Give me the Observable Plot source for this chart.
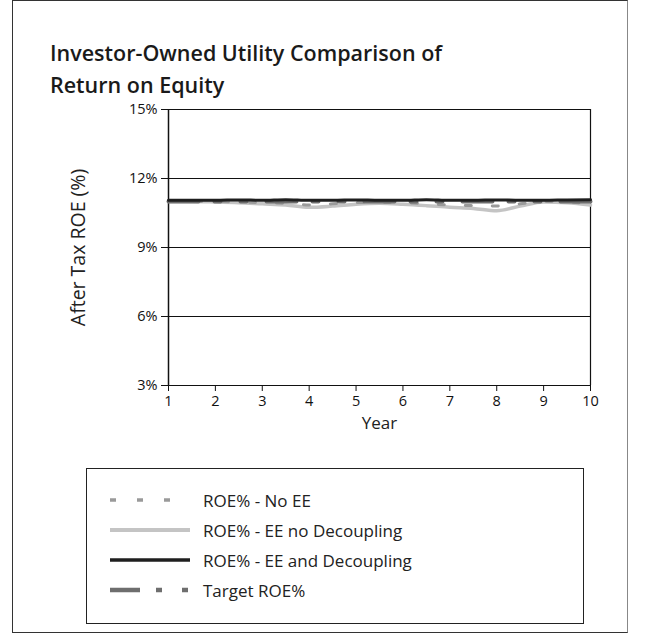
<!DOCTYPE html>
<html>
<head>
<meta charset="utf-8">
<script src="https://cdn.jsdelivr.net/npm/d3@7"></script>
<script src="https://cdn.jsdelivr.net/npm/@observablehq/plot@0.6"></script>
<style>
  body { margin: 0; background: #fff; font-family: "Open Sans", sans-serif; }
  #page { position: relative; width: 656px; height: 635px; overflow: hidden; }
  #frame { position: absolute; left: 12px; top: 0px; width: 616px; height: 633px; border: 1.5px solid #333; box-sizing: border-box; border-right-color: #888; }
  .title { position: absolute; left: 50px; font-size: 21.5px; font-weight: 600; line-height: 22px; height: 22px; color: #1a1a1a; white-space: nowrap; }
  #chart { position: absolute; left: 0; top: 0; }
  #legend { position: absolute; left: 86px; top: 468px; width: 498px; height: 156px; border: 1.5px solid #222; box-sizing: border-box; }
  .row { position: absolute; left: 22px; height: 22px; display: flex; align-items: center; font-size: 17px; color: #222; }
  .row svg { margin-right: 12px; }
</style>
</head>
<body>
<div id="page">
  <div id="frame"></div>
  <div class="title" style="top:42px">Investor-Owned Utility Comparison of</div>
  <div class="title" style="top:74px">Return on Equity</div>
  <div id="chart"></div>
  <div id="legend"></div>
</div>
<script>
// Data
const years = [1, 1.5, 2, 2.5, 3, 3.5, 4, 4.5, 5, 5.5, 6, 6.5, 7, 7.5, 8, 8.5, 9, 9.5, 10];
const roeNoEE        = [11.0, 11.0, 11.0, 10.98, 10.95, 10.92, 10.85, 10.9, 10.95, 10.97, 10.95, 10.9, 10.85, 10.82, 10.8, 10.9, 11.0, 10.98, 10.9];
const roeEENoDecoup  = [11.0, 11.0, 10.98, 10.95, 10.9, 10.85, 10.75, 10.8, 10.88, 10.92, 10.88, 10.82, 10.75, 10.7, 10.6, 10.8, 10.98, 10.95, 10.85];
const roeEEDecoup    = [11.05, 11.05, 11.05, 11.07, 11.05, 11.08, 11.05, 11.05, 11.07, 11.05, 11.05, 11.08, 11.05, 11.05, 11.07, 11.05, 11.05, 11.07, 11.08];
const roeTarget      = [11, 11, 11, 11, 11, 11, 11, 11, 11, 11, 11, 11, 11, 11, 11, 11, 11, 11, 11];
const seriesNames = ["ROE% - No EE", "ROE% - EE no Decoupling", "ROE% - EE and Decoupling", "Target ROE%"];
const yTicks = [3, 6, 9, 12, 15];
const xTicks = [1, 2, 3, 4, 5, 6, 7, 8, 9, 10];
const yLabel = "After Tax ROE (%)";
const xLabel = "Year";

const styles = {
  "ROE% - No EE":            {stroke: "#9a9a9a", width: 3, dash: "6,21"},
  "ROE% - EE no Decoupling": {stroke: "#c4c4c4", width: 3.5, dash: null},
  "ROE% - EE and Decoupling":{stroke: "#1e1e1e", width: 3, dash: null},
  "Target ROE%":             {stroke: "#6e6e6e", width: 4, dash: "30,16,6,20,6,20"}
};
const seriesVals = [roeNoEE, roeEENoDecoup, roeEEDecoup, roeTarget];
const drawOrder = [1, 0, 3, 2];

const marks = [
  Plot.ruleY(yTicks, {stroke: "#111", strokeWidth: 1.2}),
  Plot.ruleX([10], {stroke: "#111", strokeWidth: 1.2}),
  Plot.axisY(yTicks, {tickFormat: d => d + "%", tickSize: 7, tickPadding: 4, label: null, fontSize: 14.5}),
  Plot.axisX(xTicks, {tickSize: 6, tickPadding: 4, label: null, fontSize: 14.5}),
  Plot.ruleX([1], {stroke: "#111", strokeWidth: 1.5}),
  Plot.text([yLabel], {frameAnchor: "left", dx: -90, rotate: -90, textAnchor: "middle", fontSize: 19.5, fill: "#222"}),
  Plot.text([xLabel], {frameAnchor: "bottom", dy: 43, fontSize: 17, fill: "#222"})
];
for (const i of drawOrder) {
  const s = styles[seriesNames[i]];
  const data = years.map((x, j) => ({x, y: seriesVals[i][j]}));
  marks.push(Plot.line(data, {x: "x", y: "y", stroke: s.stroke, strokeWidth: s.width,
    strokeDasharray: s.dash || undefined, curve: "monotone-x"}));
}

const chart = Plot.plot({
  width: 656,
  height: 460,
  marginLeft: 168,
  marginRight: 66,
  marginTop: 109,
  marginBottom: 75,
  x: {domain: [1, 10]},
  y: {domain: [3, 15]},
  style: {fontFamily: "Open Sans, sans-serif", fontSize: "14.5px", color: "#111", background: "transparent", overflow: "visible"},
  marks
});
document.getElementById("chart").appendChild(chart);

// Legend
const legend = document.getElementById("legend");
const rowTops = [20, 50, 80, 110];
seriesNames.forEach((name, i) => {
  const s = styles[name];
  const row = document.createElement("div");
  row.className = "row";
  row.style.top = rowTops[i] + "px";
  row.innerHTML = `<svg width="82" height="10"><line x1="1" y1="5" x2="81" y2="5" stroke="${s.stroke}" stroke-width="${s.width + 0.5}" ${s.dash ? `stroke-dasharray="${s.dash}"` : ""}/></svg><span>${name}</span>`;
  legend.appendChild(row);
});
</script>
</body>
</html>
